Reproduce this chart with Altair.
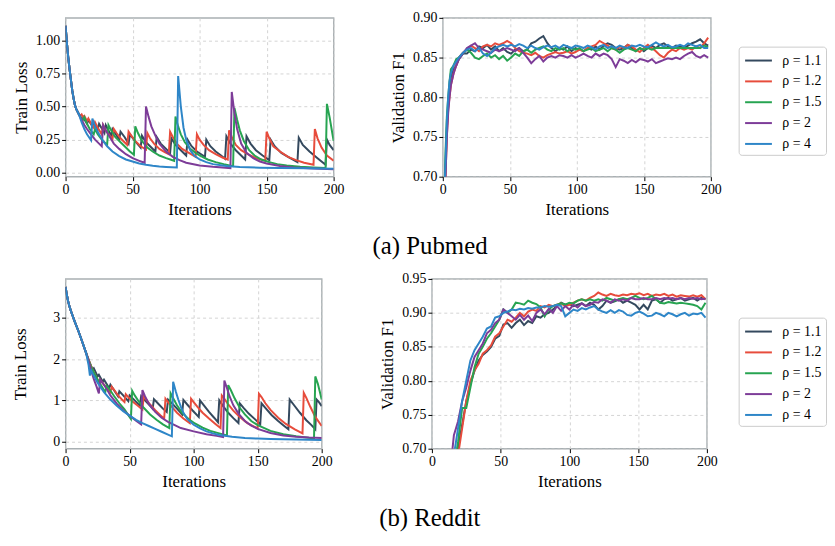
import altair as alt
import pandas as pd

SERIES = ["ρ = 1.1", "ρ = 1.2", "ρ = 1.5", "ρ = 2", "ρ = 4"]
COLORS = ["#34495e", "#e74c3c", "#27a451", "#7d3c98", "#2e86c8"]
X_TICKS = [0, 50, 100, 150, 200]
FONT = "Liberation Serif"

# ---------------- Pubmed: train loss (iteration, value) ----------------
PUB_START = [(0, 1.11), (1, 0.98), (2, 0.87), (3, 0.78), (4, 0.70), (5, 0.62),
             (6, 0.56), (7, 0.51), (8, 0.48), (10, 0.44)]
PUB_LOSS_11 = [(12, .40), (13, .42), (16, .37), (17, .40), (20, .35), (21, .38), (24, .33), (25, .37),
               (29, .30), (30, .36), (34, .28), (35, .33), (40, .25), (41, .31), (44, .27), (47, .22),
               (48, .29), (51, .25), (56, .19), (57, .28), (60, .23), (64, .19), (67, .16), (68, .27),
               (71, .22), (75, .18), (78, .15), (79, .26), (82, .21), (86, .17), (90, .13), (91, .25),
               (94, .20), (98, .16), (104, .12), (105, .25), (108, .20), (112, .16), (116, .13),
               (119, .105), (120, .275), (123, .22), (127, .17), (131, .13), (134, .10), (135, .275),
               (138, .22), (142, .17), (147, .13), (152, .095), (153, .25), (156, .20), (161, .15),
               (166, .12), (173, .08), (174, .265), (177, .21), (182, .16), (188, .11), (194, .06),
               (195, .25), (197, .21), (200, .17)]
PUB_LOSS_12 = [(11, .43), (12, .44), (13, .42), (14, .43), (16, .39), (17, .41), (19, .37), (21, .34),
               (22, .38), (24, .34), (27, .29), (28, .36), (30, .32), (33, .28), (35, .255), (36, .33),
               (38, .30), (41, .26), (44, .23), (46, .21), (47, .31), (49, .28), (52, .24), (56, .20),
               (60, .175), (61, .30), (63, .26), (66, .22), (70, .18), (74, .155), (77, .14), (78, .31),
               (80, .27), (83, .22), (87, .18), (92, .15), (97, .12), (98, .29), (100, .25), (103, .21),
               (107, .17), (112, .14), (117, .115), (121, .10), (122, .32), (124, .27), (127, .21),
               (131, .17), (136, .14), (142, .11), (149, .09), (150, .31), (152, .26), (155, .20),
               (160, .16), (166, .12), (172, .095), (178, .075), (185, .06), (186, .33), (188, .26),
               (191, .19), (195, .13), (200, .09)]
PUB_LOSS_15 = [(12, .41), (13, .40), (14, .42), (16, .37), (18, .33), (21, .29), (22, .33), (24, .29),
               (27, .25), (31, .21), (32, .36), (34, .32), (37, .27), (41, .23), (45, .19), (48, .16),
               (51, .135), (52, .35), (54, .30), (57, .24), (61, .19), (65, .16), (70, .13), (75, .11),
               (81, .09), (82, .425), (84, .35), (86, .29), (89, .23), (93, .18), (97, .15), (100, .13),
               (106, .10), (112, .08), (118, .065), (125, .05), (126, .49), (128, .40), (130, .32),
               (133, .24), (137, .17), (141, .13), (146, .10), (152, .08), (158, .065), (165, .055),
               (175, .045), (185, .04), (194, .035), (195, .52), (197, .42), (199, .30), (200, .24)]
PUB_LOSS_2 = [(12, .40), (14, .36), (16, .33), (19, .29), (22, .25), (25, .22), (27, .20), (28, .36),
              (30, .32), (33, .27), (36, .22), (40, .18), (45, .14), (50, .11), (55, .09), (59, .075),
              (60, .50), (62, .42), (64, .35), (67, .28), (70, .22), (75, .16), (80, .12), (85, .095),
              (90, .075), (100, .055), (110, .045), (123, .035), (124, .61), (126, .45), (128, .33),
              (131, .22), (135, .15), (140, .11), (145, .085), (150, .07), (160, .05), (170, .04),
              (185, .032), (200, .027)]
PUB_LOSS_4 = [(12, .38), (14, .33), (16, .29), (18, .26), (19, .245), (20, .41), (22, .35), (25, .29),
              (28, .24), (31, .20), (35, .16), (40, .125), (45, .10), (50, .085), (55, .07), (60, .06),
              (65, .052), (70, .047), (75, .044), (83, .04), (84, .73), (86, .50), (88, .34), (90, .25),
              (93, .17), (96, .13), (100, .10), (105, .08), (110, .065), (120, .05), (130, .043),
              (145, .038), (160, .035), (180, .033), (200, .03)]

# ---------------- Pubmed: validation F1 ----------------
PUB_F1_11 = [(0, .55), (1, .66), (2, .71), (3, .76), (4, .79), (5, .81), (6, .825), (8, .835), (10, .84),
             (12, .848), (15, .855), (18, .855), (21, .86), (24, .858), (27, .864), (30, .862), (33, .866),
             (36, .86), (39, .864), (42, .858), (45, .862), (48, .857), (51, .855), (54, .86), (57, .862),
             (60, .858), (63, .86), (66, .868), (69, .87), (72, .874), (75, .877), (78, .868), (81, .862),
             (84, .858), (87, .862), (90, .86), (93, .864), (96, .858), (99, .862), (102, .86), (105, .858),
             (108, .862), (111, .86), (114, .864), (117, .86), (120, .865), (123, .868), (126, .866),
             (129, .862), (132, .86), (135, .862), (138, .866), (141, .862), (144, .858), (147, .862),
             (150, .858), (153, .862), (156, .865), (159, .862), (162, .866), (165, .868), (168, .864),
             (171, .862), (174, .865), (177, .864), (180, .862), (183, .865), (186, .868), (189, .87),
             (192, .873), (195, .868), (198, .865)]
PUB_F1_12 = [(0, .55), (1, .65), (2, .70), (3, .75), (4, .785), (5, .80), (6, .815), (8, .83), (10, .84),
             (12, .85), (15, .856), (18, .86), (21, .865), (24, .862), (27, .858), (30, .864), (33, .866),
             (36, .864), (39, .868), (42, .866), (45, .868), (48, .871), (51, .868), (54, .862), (57, .858),
             (60, .856), (63, .855), (66, .853), (69, .856), (72, .852), (75, .85), (78, .853), (81, .855),
             (84, .857), (87, .855), (90, .856), (93, .858), (96, .855), (99, .857), (102, .86), (105, .858),
             (108, .862), (111, .864), (114, .866), (117, .871), (120, .868), (123, .865), (126, .862),
             (129, .86), (132, .864), (135, .862), (138, .866), (141, .864), (144, .86), (147, .857),
             (150, .862), (153, .866), (156, .862), (159, .858), (162, .853), (165, .85), (168, .856),
             (171, .86), (174, .858), (177, .862), (180, .86), (183, .862), (186, .86), (189, .864),
             (192, .862), (195, .868), (198, .875)]
PUB_F1_15 = [(0, .55), (1, .67), (2, .73), (3, .775), (4, .80), (5, .82), (6, .835), (8, .84), (10, .848),
             (12, .85), (15, .855), (18, .86), (21, .856), (24, .85), (27, .848), (30, .852), (33, .855),
             (36, .85), (39, .853), (42, .848), (45, .852), (48, .846), (51, .85), (54, .855), (57, .852),
             (60, .858), (63, .86), (66, .856), (69, .86), (72, .862), (75, .864), (78, .86), (81, .858),
             (84, .862), (87, .86), (90, .862), (93, .858), (96, .862), (99, .86), (102, .862), (105, .858),
             (108, .86), (111, .862), (114, .858), (117, .86), (120, .862), (123, .858), (126, .862),
             (129, .86), (132, .856), (135, .86), (138, .862), (141, .86), (144, .858), (147, .862),
             (150, .86), (153, .862), (156, .86), (159, .862), (162, .862), (165, .862), (168, .862),
             (171, .862), (174, .862), (177, .862), (180, .862), (183, .862), (186, .862), (189, .862),
             (192, .862), (195, .865), (198, .863)]
PUB_F1_2 = [(0, .55), (1, .64), (2, .70), (3, .75), (4, .78), (5, .80), (6, .815), (8, .83), (10, .84),
            (12, .848), (15, .855), (18, .862), (21, .865), (24, .868), (27, .862), (30, .86), (33, .858),
            (36, .856), (39, .86), (42, .858), (45, .86), (48, .862), (51, .86), (54, .858), (57, .862),
            (60, .856), (63, .85), (66, .843), (69, .848), (72, .852), (75, .845), (78, .85), (81, .852),
            (84, .85), (87, .853), (90, .852), (93, .85), (96, .853), (99, .85), (102, .852), (105, .855),
            (108, .852), (111, .85), (114, .855), (117, .852), (120, .855), (123, .853), (126, .848),
            (129, .838), (132, .848), (135, .846), (138, .843), (141, .847), (144, .844), (147, .848),
            (150, .847), (153, .845), (156, .848), (159, .843), (162, .845), (165, .847), (168, .849),
            (171, .848), (174, .85), (177, .848), (180, .852), (183, .855), (186, .857), (189, .852),
            (192, .85), (195, .853), (198, .85)]
PUB_F1_4 = [(0, .55), (1, .67), (2, .72), (3, .77), (4, .80), (5, .82), (6, .83), (8, .84), (10, .845),
            (12, .85), (15, .856), (18, .86), (21, .862), (24, .858), (27, .862), (30, .855), (33, .852),
            (36, .856), (39, .862), (42, .864), (45, .866), (48, .864), (51, .866), (54, .864), (57, .867),
            (60, .865), (63, .862), (66, .865), (69, .862), (72, .86), (75, .863), (78, .865), (81, .863),
            (84, .865), (87, .862), (90, .866), (93, .864), (96, .862), (99, .865), (102, .864), (105, .862),
            (108, .865), (111, .863), (114, .86), (117, .864), (120, .866), (123, .862), (126, .864),
            (129, .862), (132, .865), (135, .863), (138, .862), (141, .865), (144, .864), (147, .866),
            (150, .864), (153, .863), (156, .866), (159, .869), (162, .866), (165, .864), (168, .866),
            (171, .863), (174, .864), (177, .866), (180, .864), (183, .868), (186, .866), (189, .864),
            (192, .866), (195, .862), (198, .862)]

# ---------------- Reddit: train loss ----------------
RED_START = [(0, 3.75), (1, 3.55), (2, 3.40), (3, 3.28), (4, 3.18), (5, 3.09), (7, 2.92), (10, 2.68),
             (13, 2.42), (16, 2.15)]
RED_LOSS_11 = [(18, 1.98), (21, 1.75), (22, 1.78), (25, 1.58), (26, 1.62), (29, 1.45), (30, 1.50),
               (34, 1.30), (35, 1.38), (41, 1.10), (42, 1.22), (45, 1.12), (49, .98), (50, 1.12), (53, 1.03),
               (58, .87), (59, 1.10), (62, 1.0), (66, .87), (68, .80), (69, 1.03), (72, .93), (76, .80),
               (79, .72), (80, 1.02), (83, .93), (87, .80), (91, .66), (92, 1.01), (95, .90), (99, .76),
               (104, .60), (105, 1.0), (108, .88), (112, .72), (116, .58), (119, .47), (120, 1.0), (123, .86),
               (127, .70), (131, .57), (135, .45), (136, .93), (139, .82), (143, .68), (148, .54), (152, .42),
               (153, .93), (156, .82), (161, .64), (166, .50), (170, .40), (174, .30), (175, 1.02), (178, .90),
               (183, .70), (188, .52), (192, .40), (195, .30), (196, 1.02), (198, .95), (200, .86)]
RED_LOSS_12 = [(18, 1.98), (20, 1.82), (22, 1.68), (25, 1.50), (26, 1.43), (27, 1.50), (29, 1.42),
               (32, 1.30), (35, 1.20), (36, 1.33), (38, 1.25), (41, 1.12), (44, 1.02), (46, .96), (47, 1.15),
               (49, 1.08), (52, .98), (56, .88), (60, .78), (61, 1.10), (63, 1.02), (66, .90), (70, .76),
               (74, .64), (77, .56), (78, 1.04), (80, .96), (83, .84), (87, .70), (92, .56), (97, .45),
               (98, 1.04), (100, .96), (103, .84), (107, .70), (112, .56), (117, .43), (121, .33), (122, 1.12),
               (124, 1.04), (127, .90), (131, .75), (136, .60), (142, .45), (150, .32), (151, 1.16),
               (153, 1.08), (156, .93), (160, .77), (166, .58), (172, .43), (179, .30), (185, .20),
               (186, 1.18), (188, 1.06), (191, .85), (195, .60), (200, .38)]
RED_LOSS_15 = [(18, 1.97), (20, 1.80), (21, 1.75), (23, 1.62), (26, 1.45), (29, 1.30), (31, 1.20),
               (32, 1.35), (34, 1.28), (38, 1.10), (42, .93), (46, .78), (51, .55), (52, 1.23), (54, 1.12),
               (57, .98), (61, .82), (66, .66), (71, .53), (76, .42), (81, .33), (82, 1.17), (84, 1.05),
               (87, .88), (91, .70), (96, .55), (101, .44), (107, .34), (113, .26), (120, .20), (126, .15),
               (127, 1.37), (129, 1.25), (132, 1.05), (136, .82), (140, .66), (145, .50), (150, .40),
               (160, .26), (170, .18), (180, .13), (194, .08), (195, 1.58), (197, 1.40), (200, 1.02)]
RED_LOSS_2 = [(18, 1.95), (20, 1.72), (22, 1.52), (24, 1.35), (26, 1.17), (27, 1.50), (29, 1.42),
              (32, 1.28), (35, 1.12), (40, .92), (45, .76), (50, .63), (55, .51), (59, .42), (60, 1.25),
              (62, 1.10), (65, .92), (70, .72), (75, .58), (80, .48), (90, .33), (100, .25), (110, .18),
              (118, .14), (123, .11), (124, 1.48), (126, 1.30), (128, 1.10), (131, .88), (135, .68),
              (140, .50), (145, .39), (150, .31), (160, .21), (170, .15), (180, .12), (190, .10), (200, .09)]
RED_LOSS_4 = [(18, 1.85), (19, 1.60), (20, 1.72), (22, 1.60), (25, 1.43), (30, 1.20), (35, 1.02),
              (40, .87), (45, .74), (50, .63), (55, .53), (60, .45), (65, .38), (70, .31), (75, .24),
              (80, .17), (83, .13), (84, 1.45), (86, 1.22), (88, 1.02), (90, .85), (92, .70), (95, .55),
              (100, .41), (105, .32), (110, .25), (115, .20), (120, .16), (130, .12), (140, .09),
              (150, .075), (160, .065), (180, .05), (200, .04)]

# ---------------- Reddit: validation F1 ----------------
RED_F1_11 = [(13, .58), (16, .66), (19, .70), (22, .735), (25, .77), (28, .795), (31, .815), (34, .83),
             (37, .838), (40, .843), (43, .85), (46, .862), (49, .866), (52, .883), (55, .885), (58, .878),
             (61, .885), (64, .89), (67, .882), (70, .888), (73, .885), (76, .895), (79, .893), (82, .898),
             (85, .90), (88, .905), (91, .91), (94, .915), (97, .912), (100, .913), (103, .91), (106, .912),
             (109, .914), (112, .91), (115, .915), (118, .912), (121, .905), (124, .91), (127, .918),
             (130, .915), (133, .917), (136, .92), (139, .915), (142, .918), (145, .915), (148, .912),
             (151, .905), (154, .912), (157, .905), (160, .918), (163, .92), (166, .915), (169, .92),
             (172, .922), (175, .918), (178, .92), (181, .922), (184, .918), (187, .92), (190, .922),
             (193, .918), (196, .922), (199, .92)]
RED_F1_12 = [(13, .55), (16, .64), (19, .69), (22, .73), (25, .77), (28, .80), (31, .815), (34, .825),
             (37, .84), (40, .845), (43, .852), (46, .865), (49, .87), (52, .88), (55, .89), (58, .887),
             (61, .893), (64, .90), (67, .895), (70, .902), (73, .905), (76, .903), (79, .91), (82, .908),
             (85, .912), (88, .91), (91, .912), (94, .914), (97, .91), (100, .912), (103, .915), (106, .918),
             (109, .92), (112, .918), (115, .922), (118, .925), (121, .93), (124, .927), (127, .925),
             (130, .928), (133, .926), (136, .925), (139, .927), (142, .926), (145, .928), (148, .927),
             (151, .929), (154, .926), (157, .928), (160, .925), (163, .927), (166, .926), (169, .928),
             (172, .925), (175, .927), (178, .924), (181, .926), (184, .925), (187, .924), (190, .926),
             (193, .924), (196, .926), (199, .92)]
RED_F1_15 = [(13, .60), (16, .67), (19, .71), (22, .76), (25, .76), (28, .79), (31, .82), (34, .84),
             (37, .85), (40, .862), (43, .87), (46, .88), (49, .89), (52, .905), (55, .90), (58, .905),
             (61, .915), (64, .914), (67, .912), (70, .918), (73, .915), (76, .913), (79, .908), (82, .895),
             (85, .905), (88, .91), (91, .912), (94, .914), (97, .912), (100, .915), (103, .914), (106, .918),
             (109, .92), (112, .918), (115, .92), (118, .918), (121, .92), (124, .918), (127, .922),
             (130, .92), (133, .918), (136, .92), (139, .922), (142, .92), (145, .922), (148, .925),
             (151, .922), (154, .92), (157, .922), (160, .925), (163, .92), (166, .915), (169, .914),
             (172, .916), (175, .915), (178, .914), (181, .915), (184, .914), (187, .913), (190, .912),
             (193, .91), (196, .905), (199, .915)]
RED_F1_2 = [(13, .64), (15, .70), (16, .72), (19, .74), (22, .77), (25, .79), (28, .815), (31, .835),
            (34, .845), (37, .855), (40, .87), (43, .875), (46, .885), (49, .89), (52, .905), (55, .90),
            (58, .895), (61, .89), (64, .897), (67, .89), (70, .896), (73, .888), (76, .90), (79, .905),
            (82, .898), (85, .906), (88, .90), (91, .91), (94, .903), (97, .91), (100, .905), (103, .912),
            (106, .908), (109, .914), (112, .91), (115, .912), (118, .916), (121, .915), (124, .92),
            (127, .918), (130, .915), (133, .92), (136, .918), (139, .92), (142, .918), (145, .922),
            (148, .92), (151, .92), (154, .922), (157, .92), (160, .92), (163, .922), (166, .92),
            (169, .922), (172, .921), (175, .922), (178, .92), (181, .922), (184, .92), (187, .922),
            (190, .921), (193, .922), (196, .92), (199, .921)]
RED_F1_4 = [(13, .62), (16, .69), (19, .73), (22, .77), (25, .80), (28, .83), (31, .845), (34, .855),
            (37, .865), (40, .877), (43, .88), (46, .893), (49, .895), (52, .90), (55, .902), (58, .905),
            (61, .904), (64, .906), (67, .905), (70, .907), (73, .906), (76, .908), (79, .908), (82, .91),
            (85, .909), (88, .91), (91, .912), (94, .91), (97, .895), (100, .90), (103, .905), (106, .903),
            (109, .907), (112, .905), (115, .908), (118, .91), (121, .905), (124, .902), (127, .90),
            (130, .904), (133, .90), (136, .904), (139, .902), (142, .897), (145, .896), (148, .90),
            (151, .902), (154, .899), (157, .895), (160, .896), (163, .90), (166, .898), (169, .895),
            (172, .90), (175, .898), (178, .895), (181, .898), (184, .90), (187, .896), (190, .899),
            (193, .898), (196, .90), (199, .893)]


def frame(parts):
    rows = []
    for name, pts in zip(SERIES, parts):
        for it, v in pts:
            rows.append({"series": name, "iter": it, "value": v})
    return pd.DataFrame(rows)


pub_loss = frame([PUB_START + s for s in (PUB_LOSS_11, PUB_LOSS_12, PUB_LOSS_15, PUB_LOSS_2, PUB_LOSS_4)])
pub_f1 = frame([PUB_F1_11, PUB_F1_12, PUB_F1_15, PUB_F1_2, PUB_F1_4])
red_loss = frame([RED_START + s for s in (RED_LOSS_11, RED_LOSS_12, RED_LOSS_15, RED_LOSS_2, RED_LOSS_4)])
red_f1 = frame([RED_F1_11, RED_F1_12, RED_F1_15, RED_F1_2, RED_F1_4])


def panel(df, ydom, yticks, yfmt, ytitle, w, h, lx, ly, tpad=5):
    legend = alt.Legend(orient="none", legendX=lx, legendY=ly, title=None,
                        labelFont=FONT, labelFontSize=14)
    return alt.Chart(df).mark_line(strokeWidth=2, clip=True).encode(
        x=alt.X("iter:Q", scale=alt.Scale(domain=[0, 200], nice=False),
                axis=alt.Axis(values=X_TICKS, format="d", title="Iterations")),
        y=alt.Y("value:Q", scale=alt.Scale(domain=ydom, nice=False, zero=False),
                axis=alt.Axis(values=yticks, format=yfmt, title=ytitle, titlePadding=tpad)),
        color=alt.Color("series:N", scale=alt.Scale(domain=SERIES, range=COLORS), legend=legend),
    ).properties(width=w, height=h)


cap = dict(orient="bottom", anchor="middle", font=FONT, fontSize=25, fontWeight="normal",
           color="black", offset=16, dx=11)

row1 = alt.hconcat(
    panel(pub_loss, [-0.03, 1.17], [0, 0.25, 0.5, 0.75, 1.0], ".2f", "Train Loss", 270, 160, 678, 29),
    panel(pub_f1, [0.70, 0.90], [0.70, 0.75, 0.80, 0.85, 0.90], ".2f", "Validation F1", 270, 160, 678, 29),
    spacing=43,
).properties(title=alt.TitleParams("(a) Pubmed", **cap))

row2 = alt.hconcat(
    panel(red_loss, [-0.17, 3.94], [0, 1, 2, 3], "d", "Train Loss", 258, 171, 678, 39, tpad=23),
    panel(red_f1, [0.70, 0.95], [0.70, 0.75, 0.80, 0.85, 0.90, 0.95], ".2f", "Validation F1", 277, 171, 678, 39),
    spacing=44,
).properties(title=alt.TitleParams("(b) Reddit", **cap))

chart = alt.vconcat(row1, row2, spacing=12).resolve_scale(
    color="independent"
).resolve_legend(color="independent").properties(
    padding={"left": 3, "top": 0, "right": 0, "bottom": 0}
).configure(font=FONT).configure_view(
    stroke="#a9b0b3", strokeWidth=1.4
).configure_axis(
    labelFont=FONT, labelFontSize=14, labelColor="black", titleFont=FONT, titleFontSize=17,
    titleFontWeight="normal", titleColor="black", domain=False, tickColor="black", tickSize=4,
    labelPadding=2, titlePadding=5, gridColor="#cfcfcf", gridDash=[3, 3], gridWidth=0.9,
    labelFlush=False, labelOverlap=False
).configure_legend(
    labelFont=FONT, labelFontSize=14, labelColor="black", symbolType="M-1.5,0L1.5,0",
    symbolSize=324, symbolStrokeWidth=2, symbolOffset=6, labelOffset=14, padding=4,
    rowPadding=4, strokeColor="#cccccc", fillColor="white", cornerRadius=3
)

chart.save("out.html", embed_options={"renderer": "svg", "actions": False})
